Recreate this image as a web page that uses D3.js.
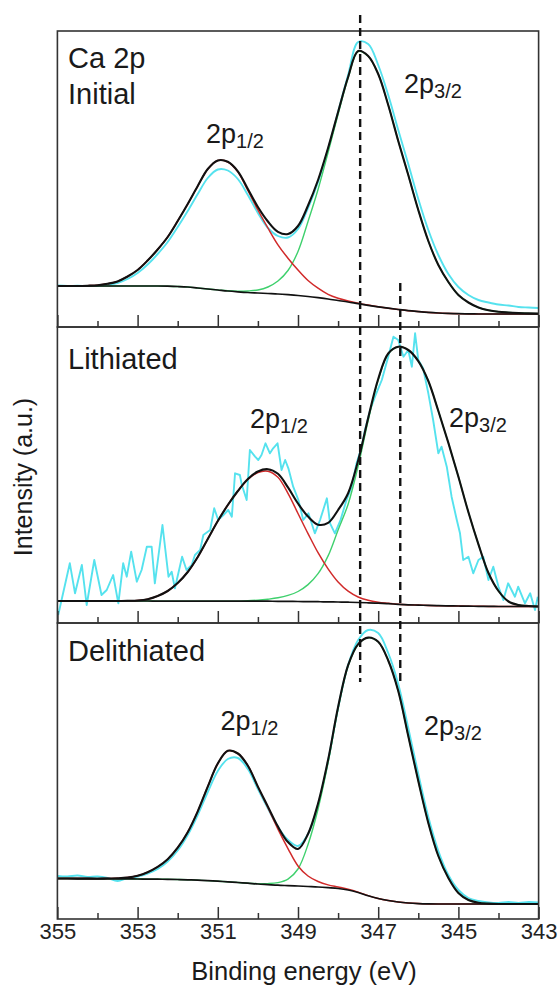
<!DOCTYPE html>
<html><head><meta charset="utf-8">
<script src="https://cdn.jsdelivr.net/npm/d3@7"></script>
<style>
html,body{margin:0;padding:0;background:#fff;}
svg{display:block;font-family:"Liberation Sans",Arial,Helvetica,sans-serif;}
</style></head><body>
<svg id="chart" width="558" height="985"></svg>
<script>
// ---------- DATA ----------
const energyGrid = [355,354.75,354.5,354.25,354,353.75,353.5,353.25,353,352.75,352.5,352.25,352,351.75,351.5,351.25,351,350.75,350.5,350.25,350,349.75,349.5,349.25,349,348.75,348.5,348.25,348,347.75,347.5,347.25,347,346.75,346.5,346.25,346,345.75,345.5,345.25,345,344.75,344.5,344.25,344,343.75,343.5,343.25,343];
const majorTicks = [355,353,351,349,347,345,343];
const minorTicks = [354,352,350,348,346,344];
const refLineEnergies = [347.45, 346.45];

// Initial
const bgInitial = [41,41,41,41,41,41,41,41,41,41,41,40.8,40.5,40,39,38,37,36,35.2,34.5,34,33.5,33,32.3,31.5,30.5,29.3,28,26.5,25,23.3,21.7,20.2,18.8,17.5,16.3,15.4,14.6,14,13.6,13.3,13.1,13,13,13,13,13,13,13];
const p12Initial = [0,0,0,0.3,0.8,2.2,4.6,9.5,16,25.5,36.5,49.2,65.5,83,102,120,129.5,129,120,102,83,65.5,49.2,36.5,25.5,16,9.5,4.6,2.2,1,0.5,0.2,0,0,0,0,0,0,0,0,0,0,0,0,0,0,0,0,0];
const p32Initial = [0,0,0,0,0,0,0,0,0,0,0,0,0,0,0,0,0.1,0.2,0.5,1.5,3,6.5,13,24.2,44,75,108.2,146.4,186.3,224,252.2,249.1,232.8,203.2,168.5,135.7,101.6,71.4,48,31.4,18.7,11.4,6.5,3.7,2.2,1.5,1,0.6,0.4];
const rawInitial = [41.5,41,41.3,41,41.2,42.2,44,48,54,62.5,73,85,100,116,133,149,157.5,156.5,148,132,114,99,91,89.5,98,119,145,178,215,252,285,283,262,232,197,163,128,97,72,53,40,32,27,24.5,22.5,21.5,20,19.5,19];

// Lithiated
const bgLith = [22,22,22,22,22,22,22,22,22,22,21.9,21.9,21.9,21.9,21.9,21.9,21.8,21.8,21.8,21.8,21.8,21.8,21.7,21.6,21.5,21.4,21.3,21.1,21,20.8,20.5,20.2,19.8,19.3,18.7,18.2,17.9,17.6,17.3,17.1,17,16.8,16.7,16.6,16.5,16.5,16.5,16.5,16.5];
const p12Lith = [0,0,0,0,0,0,0,0.2,0.5,1.8,5.1,10.1,18.1,29.1,44.1,62.1,80.2,96.2,110.2,121.7,128.7,130,124,108,88,68,49,33,20,11,5.5,2.5,1,0.4,0,0,0,0,0,0,0,0,0,0,0,0,0,0,0];
const p32Lith = [0,0,0,0,0,0,0,0,0,0,0,0,0,0,0,0,0,0,0,0.5,1,2,3.5,6,10,17,28,46,72,98,136.5,182.3,223.2,249.8,257.6,254.8,244,224.4,194.7,163,129.3,94,62,33.4,15.5,5,1.5,0.5,0];
const rawLithE = [354.98,354.69,354.56,354.39,354.27,354.08,353.90,353.77,353.61,353.48,353.36,353.27,353.16,353.02,352.90,352.77,352.65,352.57,352.38,352.23,352.15,352.07,351.89,351.78,351.65,351.57,351.44,351.36,351.19,351.09,350.99,350.86,350.74,350.65,350.57,350.45,350.40,350.28,350.20,350.07,349.99,349.91,349.81,349.70,349.62,349.51,349.41,349.32,349.24,349.12,348.99,348.87,348.74,348.58,348.45,348.28,348.20,348.08,347.94,347.79,347.66,347.54,347.41,347.33,347.20,347.08,346.91,346.75,346.62,346.50,346.37,346.25,346.16,346.08,346.00,345.88,345.75,345.63,345.50,345.42,345.29,345.17,345.04,344.96,344.88,344.75,344.63,344.50,344.38,344.25,344.13,344.00,343.88,343.76,343.59,343.51,343.34,343.21,343.09,343.02];
const rawLithI = [8,59.7,29.7,58,18,63,28,33,48,19.7,59.7,46.3,71.3,41.3,53,76.3,76.3,39.7,98,46.3,51.3,34.7,66.3,53,58,68,73,88,93,114.7,103,108,113,106.3,149.7,148,138,123,173,166.3,163,168,179.7,169.7,174.7,179.7,153,163,154.7,136.3,123,103,109.7,89.7,103,124.7,99.7,89.7,103,123,136.3,159.7,176.3,193,213,226.3,243,266.3,286.3,283,266.3,273,256.3,289.7,263,254.7,229.7,203,169.7,176.3,156.3,126.3,103,89.7,63,66.3,49.7,63,66.3,43,56.3,36.3,23,39.7,26.3,36.3,19.7,29.7,13,26.3];

// Delithiated
const bgDelith = [40.5,40.5,40.4,40.4,40.3,40.3,40.2,40.1,40,39.9,39.8,39.7,39.5,39.2,38.9,38.4,37.8,37.2,36.5,35.8,35,34.4,33.8,33.4,33,32.5,32,31.3,30.5,29,26.5,23.2,20.5,18.5,17,16,15.4,15.1,15,15,15,15,15,15,15,15,15,15,15];
const p12Delith = [0,0,0,0,0,0.2,0.5,1.3,3.3,6.9,12.3,20.1,31.8,47.6,68.8,94,117.7,131,129,117.5,97,77,56,37,20,10.5,5.5,2.8,1.5,0.8,0.4,0.2,0,0,0,0,0,0,0,0,0,0,0,0,0,0,0,0,0];
const p32Delith = [0,0,0,0,0,0,0,0,0,0,0,0,0,0,0,0,0,0,0,0,0.4,1,2.6,6.5,17,42,78,125,180,224,248,258,256.7,240,211,167,122.5,81,48,26,11,4,1.3,0.4,0,0,0,0,0];
const rawDelith = [43,42.5,43.5,42,42.5,41,38,41,42.5,45.5,50,57.5,68.5,84,104,127,148,160,161,150,130,110.5,92,79,73,85,114,158,211,254,279,289,286,266,235,191,145,102,68,44,29,21,18,16.5,16,17,16,17,16.5];

// ---------- LAYOUT ----------
const svg = d3.select("#chart");
const plotLeft = 57.4, plotRight = 538.6;
const panelTops = [31, 327, 623];
const panelH = 296;
const x = d3.scaleLinear().domain([355, 343]).range([plotLeft, plotRight]);

const panels = [
  {bg: bgInitial, p12: p12Initial, p32: p32Initial,
   raw: energyGrid.map((e,i)=>[e, rawInitial[i]]), rawCurve: d3.curveCatmullRom,
   labels: [["Ca 2p", 37], ["Initial", 73]],
   peaks: [{t:"1/2", x:206, y:112}, {t:"3/2", x:404, y:61.5}]},
  {bg: bgLith, p12: p12Lith, p32: p32Lith,
   raw: rawLithE.map((e,i)=>[e, rawLithI[i]]), rawCurve: d3.curveLinear,
   labels: [["Lithiated", 42]],
   peaks: [{t:"1/2", x:250, y:101}, {t:"3/2", x:449, y:100}]},
  {bg: bgDelith, p12: p12Delith, p32: p32Delith,
   raw: energyGrid.map((e,i)=>[e, rawDelith[i]]), rawCurve: d3.curveCatmullRom,
   labels: [["Delithiated", 38]],
   peaks: [{t:"1/2", x:220.5, y:107}, {t:"3/2", x:424, y:112}]}
];

const COL = {raw:"#55e2ee", red:"#d12a2a", green:"#3fd06d", black:"#111"};

const defs = svg.append("defs");

panels.forEach((p, i) => {
  const top = panelTops[i], bottom = top + panelH;
  const y = d3.scaleLinear().domain([0, panelH]).range([bottom, top]);
  const g = svg.append("g");
  defs.append("clipPath").attr("id", "clip"+i).append("rect")
    .attr("x", plotLeft).attr("y", top).attr("width", plotRight-plotLeft).attr("height", panelH);
  const plot = g.append("g").attr("clip-path", "url(#clip"+i+")");

  const line = (curve) => d3.line().x(d => x(d[0])).y(d => y(d[1])).curve(curve);
  const smooth = line(d3.curveCatmullRom.alpha(0.5));

  const bgPts = energyGrid.map((e,j) => [e, p.bg[j]]);
  const redPts = energyGrid.map((e,j) => [e, p.bg[j] + p.p12[j]]);
  const greenPts = energyGrid.map((e,j) => [e, p.bg[j] + p.p32[j]]);
  const envPts = energyGrid.map((e,j) => [e, p.bg[j] + p.p12[j] + p.p32[j]]);

  plot.append("path").datum(p.raw).attr("d", line(p.rawCurve))
    .attr("fill","none").attr("stroke",COL.raw).attr("stroke-width",1.9).attr("stroke-linejoin","round");
  plot.append("path").datum(greenPts).attr("d", smooth)
    .attr("fill","none").attr("stroke",COL.green).attr("stroke-width",1.4);
  plot.append("path").datum(redPts).attr("d", smooth)
    .attr("fill","none").attr("stroke",COL.red).attr("stroke-width",1.5);
  plot.append("path").datum(bgPts).attr("d", smooth)
    .attr("fill","none").attr("stroke",COL.black).attr("stroke-width",1.7);
  plot.append("path").datum(envPts).attr("d", smooth)
    .attr("fill","none").attr("stroke",COL.black).attr("stroke-width",2.1);

  // frame
  g.append("rect").attr("x", plotLeft).attr("y", top).attr("width", plotRight-plotLeft).attr("height", panelH)
    .attr("fill","none").attr("stroke","#333").attr("stroke-width",1.6);

  // ticks (inward, bottom)
  const ax = g.append("g").attr("transform", `translate(0,${bottom})`)
    .call(d3.axisBottom(x).tickValues(majorTicks).tickSize(-12).tickPadding(4)
      .tickFormat(i === 2 ? d3.format("d") : () => ""));
  const axm = g.append("g").attr("transform", `translate(0,${bottom})`)
    .call(d3.axisBottom(x).tickValues(minorTicks).tickSize(-6).tickFormat(() => ""));
  [ax, axm].forEach(a => {
    a.select(".domain").remove();
    a.selectAll("line").attr("stroke","#333").attr("stroke-width",1.5);
    a.selectAll("text").attr("font-size", 22).attr("fill","#222")
      .attr("font-family", '"Liberation Sans",Arial,sans-serif');
    a.attr("font-family", null).attr("font-size", null);
  });

  // panel labels
  p.labels.forEach(([txt, dy]) => {
    g.append("text").attr("x", 68).attr("y", top + dy).attr("font-size", 29).attr("fill","#1a1a1a").text(txt);
  });
  // peak labels
  p.peaks.forEach(pk => {
    const t = g.append("text").attr("x", pk.x).attr("y", top + pk.y).attr("font-size", 27).attr("fill","#1a1a1a");
    t.append("tspan").text("2p");
    t.append("tspan").attr("font-size", 20).attr("dy", 5).text(pk.t);
  });
});

// reference dashed lines
const refSpans = [[15, 682], [283, 682]];
refLineEnergies.forEach((e, k) => {
  svg.append("line").attr("x1", x(e)).attr("x2", x(e))
    .attr("y1", refSpans[k][0]).attr("y2", refSpans[k][1])
    .attr("stroke", "#111").attr("stroke-width", 2.4).attr("stroke-dasharray", "8,5");
});

// axis titles
svg.append("text").attr("x", 304).attr("y", 980).attr("text-anchor","middle")
  .attr("font-size", 25.5).attr("fill","#1a1a1a").text("Binding energy (eV)");
svg.append("text").attr("transform", "translate(32,477) rotate(-90)").attr("text-anchor","middle")
  .attr("font-size", 25).attr("fill","#1a1a1a").text("Intensity (a.u.)");
</script>
</body></html>
